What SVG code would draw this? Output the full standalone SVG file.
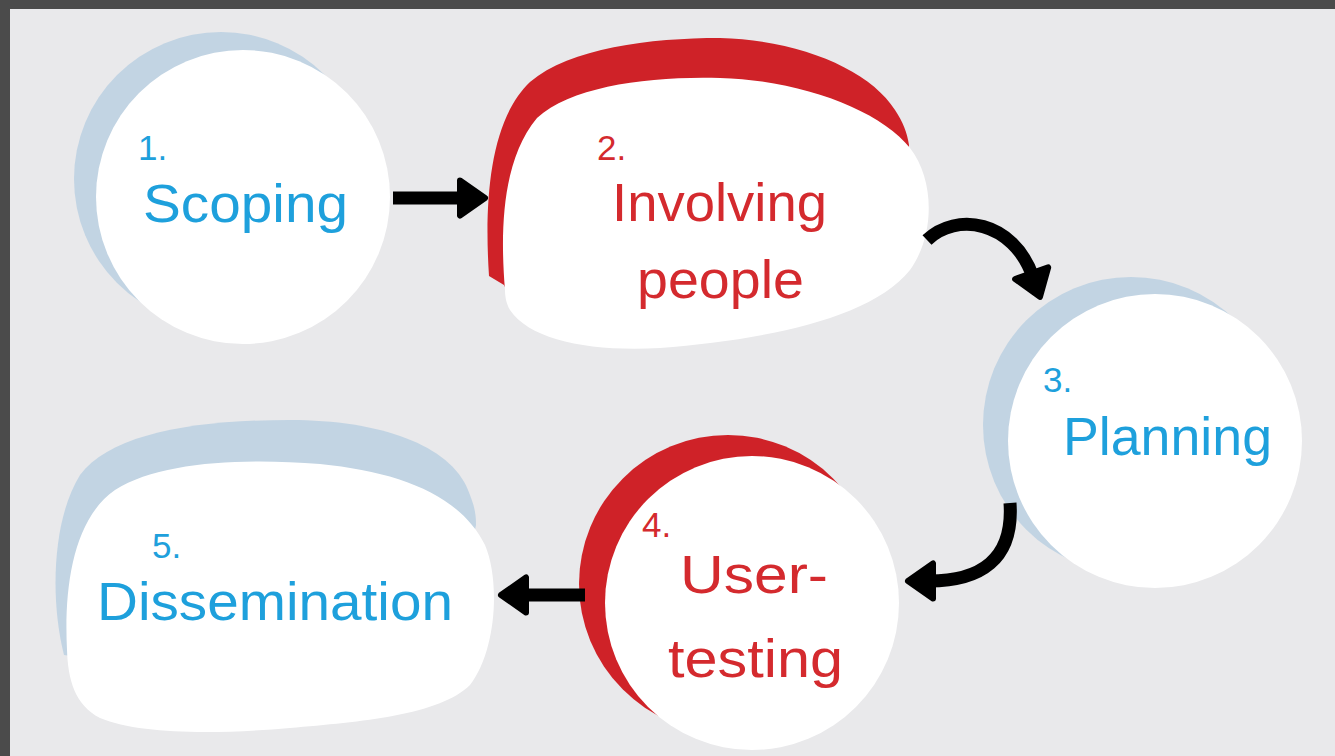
<svg xmlns="http://www.w3.org/2000/svg" width="1335" height="756" viewBox="0 0 1335 756">
<defs>
<style>
.bg{fill:#e9e9eb}
.frame{fill:#4b4b4b}
.white{fill:#ffffff}
.blueS{fill:#c2d4e3}
.redS{fill:#cf2228}
.tb{fill:#1ea0dc;font-family:"Liberation Sans",Arial,sans-serif}
.tr{fill:#d42a2e;font-family:"Liberation Sans",Arial,sans-serif}
.num{font-size:35px}
.word{font-size:53px}
.conn{fill:none;stroke:#000;stroke-width:13;stroke-linecap:butt;marker-end:url(#ah)}
</style>
<marker id="ah" viewBox="0 0 34 42" refX="8" refY="21" markerWidth="34" markerHeight="42" orient="auto" markerUnits="userSpaceOnUse">
<path d="M4,3.5 L29,21 L4,38.5 Z" fill="#000" stroke="#000" stroke-width="6" stroke-linejoin="round"/>
</marker>
</defs>
<rect class="frame" x="0" y="0" width="1335" height="756"/>
<rect class="bg" x="10" y="9" width="1325" height="747"/>

<g id="node1">
<circle class="blueS" cx="221" cy="179" r="147"/>
<circle class="white" cx="243" cy="197" r="147"/>
<text class="tb num" x="138" y="160">1.</text>
<text class="tb word" x="143" y="222" font-size="57" textLength="205" lengthAdjust="spacingAndGlyphs">Scoping</text>
</g>

<g id="node2">
<path class="redS" d="M489,276 C484,200 490,120 530,82 C570,48 650,38 720,38 C800,40 870,70 895,110 C903,122 907,132 909,145 L900,260 L520,320 L504,285 Z"/>
<path class="white" d="M505,290 C500,230 502,160 537,118 C572,86 650,76 720,78 C800,80 880,110 910,148 C935,180 935,235 910,270 C870,320 760,340 660,348 C590,352 530,340 510,310 C506,303 505,296 505,290 Z"/>
<text class="tr num" x="597" y="160">2.</text>
<text class="tr word" x="612" y="221" font-size="52" textLength="215" lengthAdjust="spacingAndGlyphs">Involving</text>
<text class="tr word" x="637" y="298" font-size="52" textLength="167" lengthAdjust="spacingAndGlyphs">people</text>
</g>

<g id="node3">
<circle class="blueS" cx="1131" cy="425" r="148"/>
<circle class="white" cx="1155" cy="441" r="147"/>
<text class="tb num" x="1043" y="392">3.</text>
<text class="tb word" x="1063" y="455" textLength="209" lengthAdjust="spacingAndGlyphs">Planning</text>
</g>

<g id="node4">
<circle class="redS" cx="728" cy="584" r="149"/>
<circle class="white" cx="752" cy="603" r="147"/>
<text class="tr num" x="642" y="537">4.</text>
<text class="tr word" x="680" y="593" textLength="148" lengthAdjust="spacingAndGlyphs">User-</text>
<text class="tr word" x="668" y="677" textLength="175" lengthAdjust="spacingAndGlyphs">testing</text>
</g>

<g id="node5">
<path class="blueS" d="M64,655 C50,600 52,520 80,475 C110,435 190,420 290,420 C380,420 450,445 468,490 C474,505 476,512 476,525 L460,600 L100,660 Z"/>
<path class="white" d="M67,650 C64,590 72,520 115,490 C160,462 240,458 320,464 C400,472 460,495 485,545 C500,580 497,650 470,685 C440,715 360,722 290,728 C220,734 140,735 100,718 C75,705 68,680 67,650 Z"/>
<text class="tb num" x="152" y="558">5.</text>
<text class="tb word" x="97" y="620" textLength="356" lengthAdjust="spacingAndGlyphs">Dissemination</text>
</g>

<g id="connectors">
<path class="conn" d="M393,198 L464,198"/>
<path class="conn" d="M927,240 C956,212 1013,220 1033,277"/>
<path class="conn" d="M1010,503 C1014,560 980,581 929,581"/>
<path class="conn" d="M585,595 L522,595"/>
</g>
</svg>
